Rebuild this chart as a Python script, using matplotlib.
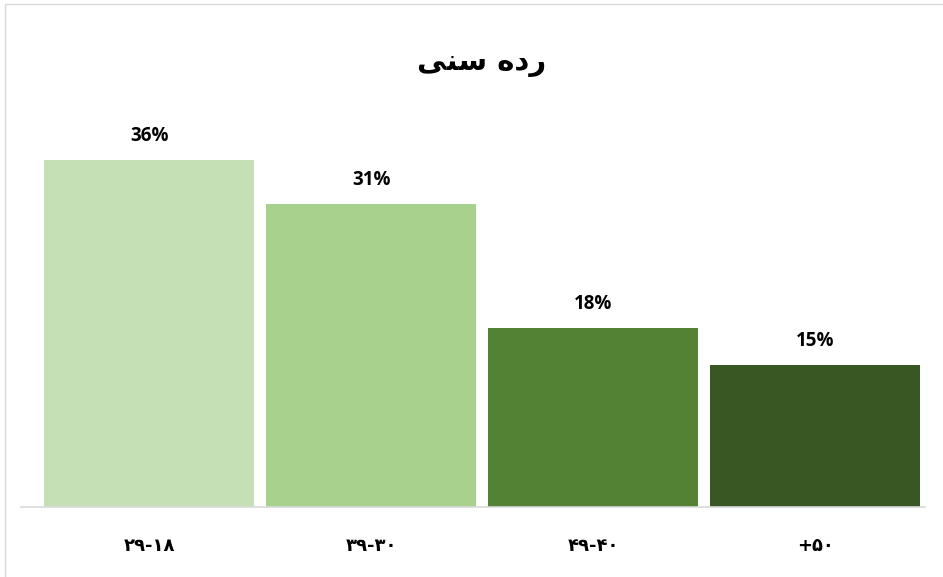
import matplotlib.pyplot as plt
from matplotlib.patches import Rectangle

# age group chart (Persian); text is pre-shaped in visual order
title = "\uFBFD\uFEE8\uFEB3 \uFEE9\uFEA9\uFEAD"  # رده سنی
categories = ["۲۹-۱۸", "۳۹-۳۰", "۴۹-۴۰", "+۵۰"]
shares = [35.8, 31.2, 18.4, 14.6]
colors = ["#C5E0B4", "#A9D18E", "#548235", "#385723"]

W, H = 943, 577
fig = plt.figure(figsize=(W / 100, H / 100), dpi=100)

# chart frame (light grey, left and top visible)
fig.patches.append(Rectangle((5 / W, -0.01), 1.0, 1 - 4 / H + 0.01, transform=fig.transFigure,
                             fill=False, edgecolor="#D9D9D9", linewidth=1))

ymax = 40
ax = fig.add_axes([21 / W, (H - 506.5) / H, (925 - 21) / W, (506.5 - 119) / H])
x = list(range(len(categories)))
bars = ax.bar(x, shares, width=0.946, color=colors)
ax.set_xlim(-0.577, 3.495)
ax.set_ylim(0, ymax)

for b, v in zip(bars, shares):
    ax.annotate(f"{round(v)}%", (b.get_x() + b.get_width() / 2, v), xytext=(0, 10),
                textcoords="offset points", ha="center", va="bottom",
                fontsize=13.5, fontweight="bold", family=["Open Sans", "DejaVu Sans"], color="#000000")

ax.set_xticks(x)
ax.set_xticklabels(categories, fontsize=13, fontweight="bold", family=["DejaVu Sans"])
ax.tick_params(axis="x", length=0, pad=22)
ax.set_yticks([])
for s in ["top", "right", "left"]:
    ax.spines[s].set_visible(False)
ax.spines["bottom"].set_color("#D9D9D9")
ax.spines["bottom"].set_linewidth(1.2)

fig.text(482 / W, 1 - 63 / H, title, ha="center", va="center", fontsize=21,
         fontweight="bold", family=["DejaVu Sans"])

fig.savefig("out.png", dpi=100)
